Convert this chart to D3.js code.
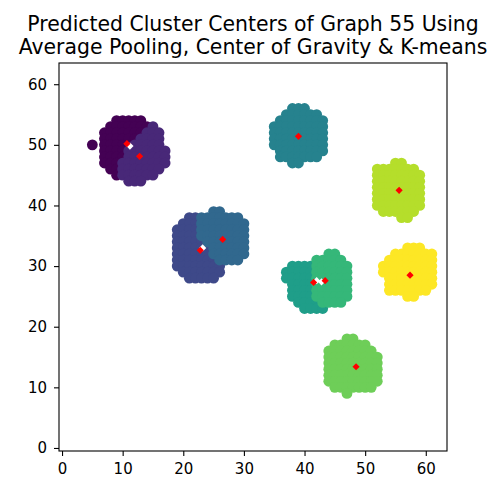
<!DOCTYPE html>
<html>
<head>
<meta charset="utf-8">
<script src="https://cdn.jsdelivr.net/npm/d3@7"></script>
<style>
    body { margin: 0; background: #fff; }
    svg text { font-family: "DejaVu Sans", sans-serif; fill: #000; }
</style>
</head>
<body>
<script>
// each cluster row: [y, xStart, xEnd] of grid nodes
let cluster0 = [
    [54, 9, 13], [53, 8, 14], [52, 7, 13], [51, 7, 12], [50, 5, 5], [50, 7, 11],
    [49, 7, 10], [48, 7, 10], [47, 7, 9], [46, 8, 9], [45, 9, 9]
];
let cluster1 = [
    [53, 15, 15], [52, 14, 16], [51, 13, 16], [50, 12, 16], [49, 11, 17],
    [48, 11, 17], [47, 10, 17], [46, 10, 16], [45, 10, 15], [44, 11, 13]
];
let cluster2 = [
    [38, 21, 22], [37, 20, 22], [36, 19, 22], [35, 19, 22], [34, 19, 23], [33, 19, 24],
    [32, 19, 24], [31, 19, 25], [30, 19, 26], [29, 20, 26], [28, 21, 25]
];
let cluster3 = [
    [39, 25, 26], [38, 23, 29], [37, 23, 30], [36, 23, 30], [35, 23, 30],
    [34, 24, 30], [33, 25, 30], [32, 25, 30], [31, 26, 29]
];
let cluster4 = [
    [56, 38, 40], [55, 37, 42], [54, 36, 43], [53, 35, 43], [52, 35, 43],
    [51, 35, 43], [50, 35, 43], [49, 36, 43], [48, 36, 42], [47, 38, 39]
];
let cluster5 = [
    [30, 38, 41], [29, 37, 41], [28, 37, 41], [27, 38, 41],
    [26, 38, 41], [25, 38, 41], [24, 39, 42], [23, 40, 43]
];
let cluster6 = [
    [32, 44, 45], [31, 42, 46], [30, 42, 47], [29, 42, 47], [28, 42, 47],
    [27, 42, 47], [26, 42, 47], [25, 42, 47], [24, 43, 46]
];
let cluster7 = [
    [18, 47, 48], [17, 45, 50], [16, 44, 51], [15, 44, 52], [14, 44, 52],
    [13, 44, 52], [12, 44, 52], [11, 44, 52], [10, 45, 51], [9, 47, 47]
];
let cluster8 = [
    [47, 55, 56], [46, 52, 58], [45, 52, 59], [44, 52, 59], [43, 52, 59],
    [42, 52, 59], [41, 52, 59], [40, 52, 59], [39, 53, 58], [38, 56, 57]
];
let cluster9 = [
    [33, 57, 59], [32, 55, 61], [31, 54, 61], [30, 53, 61], [29, 53, 61],
    [28, 54, 61], [27, 54, 61], [26, 54, 60], [25, 57, 58]
];

let clusters = [cluster0, cluster1, cluster2, cluster3, cluster4,
                cluster5, cluster6, cluster7, cluster8, cluster9];

// predicted centers (red) and the centers peeking out beneath them (white)
let centers = [
    [10.7, 50.2], [12.8, 48.1], [22.8, 32.6], [26.5, 34.4], [39.0, 51.4],
    [41.5, 27.3], [43.4, 27.6], [48.5, 13.4], [55.6, 42.5], [57.4, 28.5]
];
let altCenters = [
    [11.2, 49.8], [23.2, 33.0], [42.0, 27.6], [42.8, 27.4]
];

let xTicks = [0, 10, 20, 30, 40, 50, 60];
let yTicks = [0, 10, 20, 30, 40, 50, 60];
let titleLines = ["Predicted Cluster Centers of Graph 55 Using",
                  "Average Pooling, Center of Gravity & K-means"];

let svgContainer,
    svgWidth = 494,
    svgHeight = 479,
    plot = {left: 59, top: 63, size: 388};

let xScale = d3.scaleLinear().domain([-0.5, 63.5]).range([plot.left, plot.left + plot.size]);
let yScale = d3.scaleLinear().domain([-0.5, 63.5]).range([plot.top + plot.size, plot.top]);

function init() {
    svgContainer = d3.select("body").append("svg")
        .attr("width", svgWidth)
        .attr("height", svgHeight);

    drawClusters();
    drawCenters();
    drawAxes();
    drawTitle();
}

function rowsToPoints(rows, label) {
    let result = [];
    rows.forEach(r => {
        d3.range(r[1], r[2] + 1).forEach(x => result.push({x: x, y: r[0], label: label}));
    });
    return result;
}

function drawClusters() {
    let points = [];
    clusters.forEach((rows, i) => { points = points.concat(rowsToPoints(rows, i)); });

    let color = d3.scaleSequential(d3.interpolateViridis).domain([0, clusters.length - 1]);

    svgContainer.append("g")
        .selectAll("circle")
        .data(points)
        .join("circle")
        .attr("cx", d => xScale(d.x))
        .attr("cy", d => yScale(d.y))
        .attr("r", 5.4)
        .style("fill", d => color(d.label));
}

function drawCenters() {
    let diamond = d3.symbol().type(d3.symbolSquare).size(26);

    svgContainer.append("g")
        .selectAll("path")
        .data(altCenters)
        .join("path")
        .attr("d", diamond)
        .attr("transform", d => "translate(" + xScale(d[0]) + "," + yScale(d[1]) + ") rotate(45)")
        .style("fill", "white");

    svgContainer.append("g")
        .selectAll("path")
        .data(centers)
        .join("path")
        .attr("d", diamond)
        .attr("transform", d => "translate(" + xScale(d[0]) + "," + yScale(d[1]) + ") rotate(45)")
        .style("fill", "red");
}

function drawAxes() {
    let xAxis = d3.axisBottom(xScale).tickValues(xTicks).tickSize(5).tickPadding(7);
    let yAxis = d3.axisLeft(yScale).tickValues(yTicks).tickSize(5).tickPadding(7);

    let gx = svgContainer.append("g")
        .attr("transform", "translate(0," + (plot.top + plot.size) + ")")
        .call(xAxis);
    let gy = svgContainer.append("g")
        .attr("transform", "translate(" + plot.left + ",0)")
        .call(yAxis);

    [gx, gy].forEach(g => {
        g.select(".domain").remove();
        g.selectAll("line").attr("stroke", "#000").attr("stroke-width", 1.1);
        g.selectAll("text").style("font-size", "15px").attr("fill", "#000");
    });

    svgContainer.append("rect")
        .attr("x", plot.left)
        .attr("y", plot.top)
        .attr("width", plot.size)
        .attr("height", plot.size)
        .style("fill", "none")
        .style("stroke", "#000")
        .style("stroke-width", 1.1);
}

function drawTitle() {
    svgContainer.append("g")
        .selectAll("text")
        .data(titleLines)
        .join("text")
        .attr("x", plot.left + plot.size / 2)
        .attr("y", (d, i) => 30.5 + i * 23.5)
        .attr("text-anchor", "middle")
        .style("font-size", "20.4px")
        .text(d => d);
}

init();
</script>
</body>
</html>
